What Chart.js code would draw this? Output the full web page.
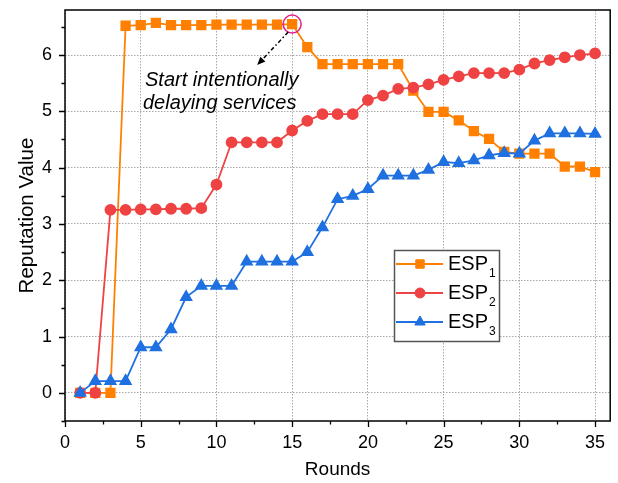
<!DOCTYPE html>
<html>
<head>
<meta charset="utf-8">
<script src="https://cdn.jsdelivr.net/npm/chart.js@4/dist/chart.umd.min.js"></script>
<style>
html, body { margin: 0; padding: 0; background: #fff; }
#wrap { width: 618px; height: 483px; }
</style>
</head>
<body>
<div id="wrap"><canvas id="chart" width="618" height="483"></canvas></div>
<script>
const rounds = [1, 2, 3, 4, 5, 6, 7, 8, 9, 10, 11, 12, 13, 14, 15, 16, 17, 18,
                19, 20, 21, 22, 23, 24, 25, 26, 27, 28, 29, 30, 31, 32, 33, 34, 35];
const esp1 = [0, 0, 0, 6.52, 6.53, 6.57, 6.53, 6.53, 6.53, 6.54, 6.54, 6.54, 6.54, 6.54, 6.55,
              6.14, 5.84, 5.84, 5.84, 5.84, 5.84, 5.84, 5.37, 4.99, 4.99, 4.84, 4.65, 4.51,
              4.28, 4.25, 4.25, 4.25, 4.02, 4.02, 3.92];
const esp2 = [0, 0, 3.25, 3.25, 3.26, 3.26, 3.27, 3.27, 3.28, 3.70, 4.45, 4.45, 4.45, 4.45,
              4.66, 4.83, 4.95, 4.95, 4.95, 5.20, 5.28, 5.40, 5.42, 5.48, 5.56, 5.62, 5.68,
              5.68, 5.68, 5.74, 5.85, 5.91, 5.96, 6.00, 6.03];
const esp3 = [0, 0.21, 0.21, 0.21, 0.81, 0.81, 1.13, 1.70, 1.90, 1.90, 1.90, 2.33, 2.33, 2.33,
              2.33, 2.50, 2.94, 3.44, 3.50, 3.62, 3.86, 3.86, 3.86, 3.96, 4.10, 4.08, 4.13,
              4.22, 4.26, 4.25, 4.48, 4.61, 4.61, 4.61, 4.60];
const seriesNames = ['1', '2', '3']; // subscripts of ESP
const xMajor = [0, 5, 10, 15, 20, 25, 30, 35];
const xMinor = [2.5, 7.5, 12.5, 17.5, 22.5, 27.5, 32.5];
const yMajor = [0, 1, 2, 3, 4, 5, 6];
const yMinor = [-0.5, 0.5, 1.5, 2.5, 3.5, 4.5, 5.5, 6.5];
const delayRound = 15;
const noteLines = ['Start intentionally', 'delaying services'];
const yTitle = 'Reputation Value';

const FONT = '"Liberation Sans", Arial, sans-serif';
const orange = '#ff8000';
const red = '#ef4343';
const blue = '#1f70e0';

const toPoints = vals => vals.map((v, i) => ({ x: rounds[i], y: v }));

// frame, outward ticks, y title, annotation and legend with subscripts
const decorPlugin = {
    id: 'decor',
    afterDraw(chart) {
        const { ctx, chartArea: a } = chart;
        const x = chart.scales.x, y = chart.scales.y;
        ctx.save();
        ctx.strokeStyle = '#000';
        ctx.lineWidth = 1.3;
        ctx.beginPath();
        const xTick = (v, len) => {
            const px = Math.round(x.getPixelForValue(v)) + 0.5;
            ctx.moveTo(px, a.bottom);
            ctx.lineTo(px, a.bottom + len);
        };
        const yTick = (v, len) => {
            const py = Math.round(y.getPixelForValue(v)) + 0.5;
            ctx.moveTo(a.left, py);
            ctx.lineTo(a.left - len, py);
        };
        xMajor.forEach(v => xTick(v, 6));
        xMinor.forEach(v => xTick(v, 3.5));
        yMajor.forEach(v => yTick(v, 6));
        yMinor.forEach(v => yTick(v, 3.5));
        ctx.stroke();

        ctx.lineWidth = 1.5;
        ctx.strokeRect(a.left, a.top, a.right - a.left, a.bottom - a.top);

        // y axis title
        ctx.save();
        ctx.translate(33, (a.top + a.bottom) / 2);
        ctx.rotate(-Math.PI / 2);
        ctx.fillStyle = '#000';
        ctx.font = '20.5px ' + FONT;
        ctx.textAlign = 'center';
        ctx.textBaseline = 'alphabetic';
        ctx.fillText(yTitle, 0, 0);
        ctx.restore();

        // highlighted point + arrow + note
        const cx = x.getPixelForValue(delayRound);
        const cy = y.getPixelForValue(esp1[rounds.indexOf(delayRound)]);
        ctx.strokeStyle = '#e0208c';
        ctx.lineWidth = 1.5;
        ctx.beginPath();
        ctx.arc(cx, cy, 9, 0, Math.PI * 2);
        ctx.stroke();

        const sx = cx - 4, sy = cy + 8, tx = cx - 35, ty = cy + 41;
        const ang = Math.atan2(ty - sy, tx - sx);
        ctx.strokeStyle = '#000';
        ctx.lineWidth = 1.5;
        ctx.setLineDash([4, 2.5, 1.5, 2.5]);
        ctx.beginPath();
        ctx.moveTo(sx, sy);
        ctx.lineTo(tx - 6 * Math.cos(ang), ty - 6 * Math.sin(ang));
        ctx.stroke();
        ctx.setLineDash([]);
        ctx.fillStyle = '#000';
        ctx.beginPath();
        ctx.moveTo(tx, ty);
        ctx.lineTo(tx - 9 * Math.cos(ang - 0.4), ty - 9 * Math.sin(ang - 0.4));
        ctx.lineTo(tx - 9 * Math.cos(ang + 0.4), ty - 9 * Math.sin(ang + 0.4));
        ctx.closePath();
        ctx.fill();

        ctx.font = 'italic 20px ' + FONT;
        ctx.textAlign = 'left';
        ctx.textBaseline = 'middle';
        ctx.fillText(noteLines[0], 145, 80);
        ctx.fillText(noteLines[1], 143, 103);

        // legend
        const lx = 394, ly = 250, lw = 105, lh = 91;
        ctx.fillStyle = '#fff';
        ctx.fillRect(lx, ly, lw, lh);
        ctx.strokeStyle = '#555';
        ctx.lineWidth = 1.5;
        ctx.strokeRect(lx + 0.5, ly + 0.5, lw, lh);
        chart.data.datasets.forEach((ds, i) => {
            const ry = 264 + i * 29;
            ctx.strokeStyle = ds.borderColor;
            ctx.lineWidth = ds.borderWidth;
            ctx.beginPath();
            ctx.moveTo(396, ry);
            ctx.lineTo(443, ry);
            ctx.stroke();
            ctx.fillStyle = ds.backgroundColor;
            ctx.lineWidth = 1;
            Chart.helpers.drawPoint(ctx, { pointStyle: ds.pointStyle, radius: ds.pointRadius, rotation: 0, borderWidth: 1 }, 420, ry);
            ctx.fillStyle = '#000';
            ctx.font = '20px ' + FONT;
            ctx.textBaseline = 'middle';
            ctx.fillText('ESP', 448, ry);
            const w = ctx.measureText('ESP').width;
            ctx.font = '12px ' + FONT;
            ctx.textBaseline = 'alphabetic';
            ctx.fillText(seriesNames[i], 448 + w + 1, ry + 13);
        });
        ctx.restore();
    }
};

new Chart(document.getElementById('chart').getContext('2d'), {
    type: 'line',
    data: {
        datasets: [
            {
                label: 'ESP1',
                data: toPoints(esp1),
                borderColor: orange,
                backgroundColor: orange,
                pointStyle: 'rect',
                pointRadius: 6,
                borderWidth: 1.8,
                order: 2
            },
            {
                label: 'ESP2',
                data: toPoints(esp2),
                borderColor: red,
                backgroundColor: red,
                pointStyle: 'circle',
                pointRadius: 5,
                borderWidth: 1.8,
                order: 1
            },
            {
                label: 'ESP3',
                data: toPoints(esp3),
                borderColor: blue,
                backgroundColor: blue,
                pointStyle: 'triangle',
                pointRadius: 6,
                borderWidth: 1.8,
                order: 0
            }
        ]
    },
    options: {
        responsive: false,
        animation: false,
        layout: { padding: { top: 10, right: 6, left: 0, bottom: 0 } },
        plugins: {
            legend: { display: false },
            tooltip: { enabled: false }
        },
        scales: {
            x: {
                type: 'linear',
                min: 0,
                max: 36,
                afterBuildTicks: s => { s.ticks = xMajor.map(v => ({ value: v })); },
                afterFit: s => { s.height = 62; s.paddingLeft = 0; s.paddingRight = 0; },
                grid: { color: '#a8a8a8', drawTicks: false, lineWidth: 1 },
                border: { display: false, dash: [1.5, 1.5] },
                ticks: {
                    autoSkip: false,
                    maxRotation: 0,
                    padding: 11,
                    color: '#000',
                    font: { family: FONT, size: 18 }
                },
                title: {
                    display: true,
                    text: 'Rounds',
                    color: '#000',
                    font: { family: FONT, size: 19 },
                    padding: { top: 0, bottom: 2 }
                }
            },
            y: {
                min: -0.5,
                max: 6.8,
                afterBuildTicks: s => { s.ticks = yMajor.map(v => ({ value: v })); },
                afterFit: s => { s.width = 65; s.paddingTop = 0; s.paddingBottom = 0; },
                grid: { color: '#a8a8a8', drawTicks: false, lineWidth: 1 },
                border: { display: false, dash: [1.5, 1.5] },
                ticks: {
                    autoSkip: false,
                    padding: 13,
                    color: '#000',
                    font: { family: FONT, size: 18 }
                }
            }
        }
    },
    plugins: [decorPlugin]
});
</script>
</body>
</html>
